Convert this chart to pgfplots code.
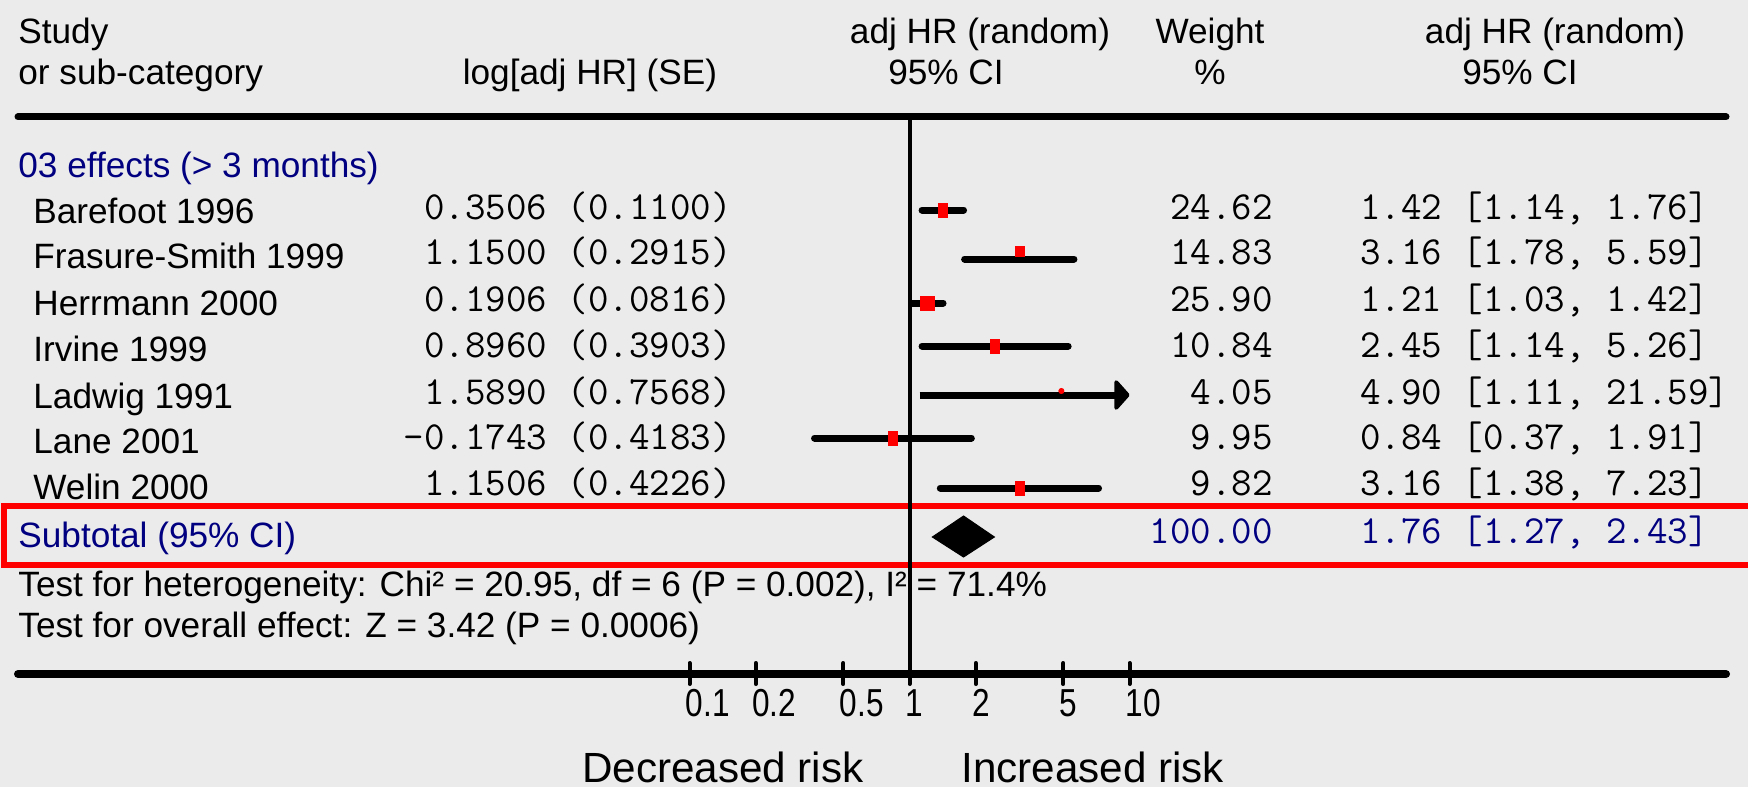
\documentclass[border=0pt]{standalone}
\usepackage{fontspec}
\setmainfont{Liberation Sans}
\newfontfamily\condsans{Liberation Sans}[FakeStretch=0.81]
\usepackage{pgfplots}
\pgfplotsset{compat=1.18}
\usetikzlibrary{arrows.meta}
\definecolor{bg}{RGB}{235,235,235}
\definecolor{navy}{RGB}{0,0,128}
\newcommand\myfs{\fontsize{17.6pt}{20pt}\selectfont}
\newcommand\myfm{\fontsize{19.9pt}{21pt}\selectfont\ttfamily}
\newcommand\myft{\fontsize{19.5pt}{22pt}\selectfont\condsans}
\newcommand\myfw{\fontsize{21.1pt}{24pt}\selectfont}
\tikzset{
  sans/.style={inner sep=0pt, font=\myfs, text height=12.6pt, text depth=0pt},
  monos/.style={inner sep=0pt, font=\myfm, text height=12.2pt, text depth=0pt},
  tickl/.style={inner sep=0pt, font=\myft, text height=14pt, text depth=0pt, anchor=west, xshift=-2pt},
  wide/.style={inner sep=0pt, font=\myfw, text height=15.1pt, text depth=0pt},
  ci/.style={line width=3.5pt, line cap=round, black},
  tk/.style={line width=2pt, line cap=round},
}
\begin{document}
\begin{tikzpicture}
\fill[bg] (0,0) rectangle (874pt,393.5pt);
\begin{scope}[x=0.5pt,y=-0.5pt,shift={(0pt,393.5pt)}]
  \draw[red, line width=3pt] (4,506) rectangle (1765,565);
  \draw[line width=3.5pt, line cap=round] (18,117) -- (1726,117);
  \draw[line width=4pt, line cap=round] (18,674) -- (1726,674);
\end{scope}
\begin{axis}[at={(0,0)}, anchor=south west, width=874pt, height=393.5pt,
  scale only axis, xmode=log, xmin=0.0000734, xmax=6476,
  ymin=0, ymax=787, y dir=reverse, hide axis, clip=false]
  % confidence intervals (adj HR, 95% CI)
  \addplot[ci] coordinates {(1.14,210) (1.76,210)};   % Barefoot 1996
  \addplot[ci] coordinates {(1.78,259) (5.59,259)};   % Frasure-Smith 1999
  \addplot[ci] coordinates {(1.03,303) (1.42,303)};   % Herrmann 2000
  \addplot[ci] coordinates {(1.14,346) (5.26,346)};   % Irvine 1999
  \addplot[ci, line cap=butt, -{Triangle[length=8pt,width=17.5pt,round]}] coordinates {(1.11,395) (10,395)}; % Ladwig 1991
  \addplot[ci] coordinates {(0.37,438) (1.91,438)};   % Lane 2001
  \addplot[ci] coordinates {(1.38,488) (7.23,488)};   % Welin 2000
  % point estimates
  \addplot[only marks, mark=square*, red, mark size=3.5pt, mark options={xscale=0.64}]
    coordinates {(1.42,210) (2.45,346) (0.84,438) (3.16,488)};
  \addplot[only marks, mark=square*, red, mark size=3.5pt] coordinates {(1.21,303)};
  \addplot[only marks, mark=square*, red, mark size=2.5pt, mark options={xscale=0.9}] coordinates {(3.16,251)};
  \addplot[only marks, mark=*, red, mark size=1.3pt] coordinates {(4.90,391)};
  % subtotal diamond
  \addplot[fill=black, draw=black, line width=0.5pt] coordinates {(1.27,537) (1.76,516) (2.43,537) (1.76,557)} -- cycle;
  % line of no effect
  \draw[line width=2pt] (axis cs:1,117) -- (axis cs:1,674);
  % ticks
  \draw[tk] (axis cs:0.1,663) -- (axis cs:0.1,684);
  \draw[tk] (axis cs:0.2,663) -- (axis cs:0.2,684);
  \draw[tk] (axis cs:0.5,663) -- (axis cs:0.5,684);
  \draw[tk] (axis cs:1,663) -- (axis cs:1,684);
  \draw[tk] (axis cs:2,663) -- (axis cs:2,684);
  \draw[tk] (axis cs:5,663) -- (axis cs:5,684);
  \draw[tk] (axis cs:10,663) -- (axis cs:10,684);
  \node[tickl] at (axis cs:0.1,702) {0.1};
  \node[tickl] at (axis cs:0.2,702) {0.2};
  \node[tickl] at (axis cs:0.5,702) {0.5};
  \node[tickl] at (axis cs:1,702) {1};
  \node[tickl] at (axis cs:2,702) {2};
  \node[tickl] at (axis cs:5,702) {5};
  \node[tickl] at (axis cs:10,702) {10};
\end{axis}
\begin{scope}[x=0.5pt,y=-0.5pt,shift={(0pt,393.5pt)}]
  % header
  \node[sans, anchor=west] at (18,31) {Study};
  \node[sans, anchor=west] at (18,72) {or sub-category};
  \node[sans] at (590,72) {log[adj HR] (SE)};
  \node[sans] at (980,31) {adj HR (random)};
  \node[sans] at (946,72) {95\% CI};
  \node[sans] at (1210,31) {Weight};
  \node[sans] at (1210,72) {\%};
  \node[sans] at (1555,31) {adj HR (random)};
  \node[sans] at (1520,72) {95\% CI};
  % group
  \node[sans, anchor=west, navy] at (18,165) {03 effects (> 3 months)};
  % studies
  \node[sans, anchor=west] at (33,211) {Barefoot 1996};
  \node[sans, anchor=west] at (33,256) {Frasure-Smith 1999};
  \node[sans, anchor=west] at (33,303) {Herrmann 2000};
  \node[sans, anchor=west] at (33,349) {Irvine 1999};
  \node[sans, anchor=west] at (33,396) {Ladwig 1991};
  \node[sans, anchor=west] at (33,441) {Lane 2001};
  \node[sans, anchor=west] at (33,487) {Welin 2000};
  \node[monos, anchor=east] at (732,207) {0.3506 (0.1100)};
  \node[monos, anchor=east] at (732,252) {1.1500 (0.2915)};
  \node[monos, anchor=east] at (732,299) {0.1906 (0.0816)};
  \node[monos, anchor=east] at (732,345) {0.8960 (0.3903)};
  \node[monos, anchor=east] at (732,392) {1.5890 (0.7568)};
  \node[monos, anchor=east] at (732,437) {-0.1743 (0.4183)};
  \node[monos, anchor=east] at (732,483) {1.1506 (0.4226)};
  \node[monos, anchor=east] at (1273,207) {24.62};
  \node[monos, anchor=east] at (1273,252) {14.83};
  \node[monos, anchor=east] at (1273,299) {25.90};
  \node[monos, anchor=east] at (1273,345) {10.84};
  \node[monos, anchor=east] at (1273,392) {4.05};
  \node[monos, anchor=east] at (1273,437) {9.95};
  \node[monos, anchor=east] at (1273,483) {9.82};
  \node[monos, anchor=west] at (1360,207) {1.42 [1.14, 1.76]};
  \node[monos, anchor=west] at (1360,252) {3.16 [1.78, 5.59]};
  \node[monos, anchor=west] at (1360,299) {1.21 [1.03, 1.42]};
  \node[monos, anchor=west] at (1360,345) {2.45 [1.14, 5.26]};
  \node[monos, anchor=west] at (1360,392) {4.90 [1.11, 21.59]};
  \node[monos, anchor=west] at (1360,437) {0.84 [0.37, 1.91]};
  \node[monos, anchor=west] at (1360,483) {3.16 [1.38, 7.23]};
  % subtotal
  \node[sans, anchor=west, navy] at (18,535) {Subtotal (95\% CI)};
  \node[monos, anchor=east, navy] at (1273,531) {100.00};
  \node[monos, anchor=west, navy] at (1360,531) {1.76 [1.27, 2.43]};
  % tests
  \node[sans, anchor=west] at (18,584) {Test for heterogeneity: Chi² = 20.95, df = 6 (P = 0.002), I² = 71.4\%};
  \node[sans, anchor=west] at (18,625) {Test for overall effect: Z = 3.42 (P = 0.0006)};
  % bottom labels
  \node[wide, anchor=east] at (864,767) {Decreased risk};
  \node[wide, anchor=west] at (961,767) {Increased risk};
\end{scope}
\pgfresetboundingbox
\path (0,0) rectangle (874pt,393.5pt);
\end{tikzpicture}
\end{document}
